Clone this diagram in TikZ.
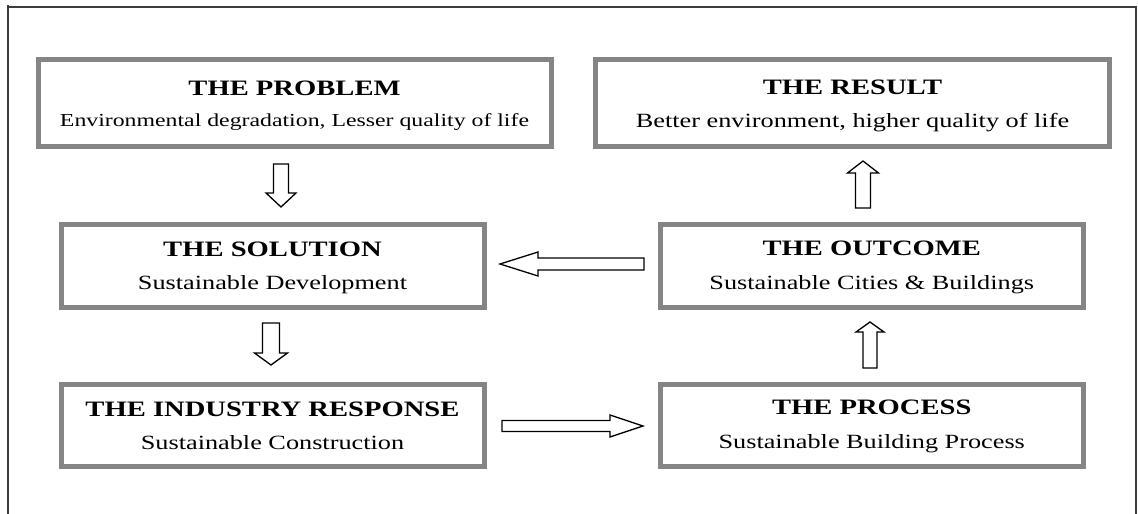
\documentclass[tikz,border=0pt]{standalone}
\usepackage{fontspec}
\setmainfont{Liberation Serif}
\usetikzlibrary{calc}

\definecolor{boxgray}{HTML}{858585}
\definecolor{framegray}{HTML}{3C3C3C}

% wide-set type used throughout the chart
\newcommand\wide[1]{\scalebox{1.3}[1]{#1}}
\newcommand\titlefont{\fontsize{22}{26}\selectfont\bfseries}
\newcommand\subfont{\fontsize{20.2}{24}\selectfont}
\newcommand\subsmallfont{\fontsize{18.3}{22}\selectfont}

% hollow block arrow from #1 to #2: shaft half-width #3, head half-width #4, head length #5
\newcommand\blockarrow[5]{%
  \coordinate (#1-#2-b) at ($(#2)!#5!(#1)$);
  \draw[blockline]
    ($(#1)!#3!90:(#2)$) -- ($(#1-#2-b)!#3!90:(#2)$) -- ($(#1-#2-b)!#4!90:(#2)$)
    -- (#2)
    -- ($(#1-#2-b)!#4!-90:(#2)$) -- ($(#1-#2-b)!#3!-90:(#2)$) -- ($(#1)!#3!-90:(#2)$)
    -- cycle;}

\tikzset{
  stagebox/.style={draw=boxgray, line width=5pt, fill=white, rectangle,
    inner sep=0pt, outer sep=0pt},
  titletext/.style={font=\titlefont, anchor=base, inner sep=0pt},
  subtext/.style={font=\subfont, anchor=base, inner sep=0pt},
  blockline/.style={draw=black, line width=1.3pt, fill=white, line join=miter},
  frameline/.style={draw=framegray, line width=1.2pt},
}

\begin{document}
\begin{tikzpicture}[x=1pt, y=-1pt]
\useasboundingbox (0,0) rectangle (1138,514);

% open page frame
\draw[frameline] (8,514) -- (8,5);
\draw[frameline] (8,7) -- (1136,7) -- (1136,514);

% stage boxes
\node[stagebox, minimum width=513pt, minimum height=86.5pt] (problem)  at (294.5,102.75) {};
\node[stagebox, minimum width=514pt, minimum height=86.5pt] (result)   at (852.5,102.75) {};
\node[stagebox, minimum width=423pt, minimum height=82.5pt] (solution) at (272.5,265.75) {};
\node[stagebox, minimum width=422.5pt, minimum height=82.5pt] (outcome) at (871.75,265.75) {};
\node[stagebox, minimum width=423pt, minimum height=82.5pt] (industry) at (272.5,425.25) {};
\node[stagebox, minimum width=422.5pt, minimum height=82.5pt] (process) at (871.75,425.25) {};

% box texts
\node[titletext] (problem-t) at ($(problem.north)+(0,35.5)$) {\wide{THE PROBLEM}};
\node[subtext, font=\subsmallfont] (problem-s) at ($(problem.north)+(0,66.5)$) {\wide{Environmental degradation, Lesser quality of life}};
\node[titletext] (result-t) at ($(result.north)+(0,34.5)$) {\wide{THE RESULT}};
\node[subtext] (result-s) at ($(result.north)+(0,67.5)$) {\wide{Better environment, higher quality of life}};
\node[titletext] (solution-t) at ($(solution.north)+(0,32)$) {\wide{THE SOLUTION}};
\node[subtext] (solution-s) at ($(solution.north)+(0,64.5)$) {\wide{Sustainable Development}};
\node[titletext] (outcome-t) at ($(outcome.north)+(0,31)$) {\wide{THE OUTCOME}};
\node[subtext] (outcome-s) at ($(outcome.north)+(0,64.5)$) {\wide{Sustainable Cities \& Buildings}};
\node[titletext] (industry-t) at ($(industry.north)+(0,32)$) {\wide{THE INDUSTRY RESPONSE}};
\node[subtext] (industry-s) at ($(industry.north)+(0,65.5)$) {\wide{Sustainable Construction}};
\node[titletext] (process-t) at ($(process.north)+(0,30)$) {\wide{THE PROCESS}};
\node[subtext] (process-s) at ($(process.north)+(0,64)$) {\wide{Sustainable Building Process}};

% arrow end points
\coordinate (a1s) at (281,164);  \coordinate (a1e) at (281,207);
\coordinate (a2s) at (271,323);  \coordinate (a2e) at (271,365);
\coordinate (a3s) at (863,208);  \coordinate (a3e) at (863,161);
\coordinate (a4s) at (870,368);  \coordinate (a4e) at (870,322);
\coordinate (a5s) at (644,264);  \coordinate (a5e) at (500,264);
\coordinate (a6s) at (502,426);  \coordinate (a6e) at (643,426);

% flow arrows
\blockarrow{a1s}{a1e}{7.5pt}{15pt}{14pt}
\blockarrow{a2s}{a2e}{8.5pt}{16.5pt}{12pt}
\blockarrow{a3s}{a3e}{7.5pt}{15.5pt}{12pt}
\blockarrow{a4s}{a4e}{7pt}{14pt}{10pt}
\blockarrow{a5s}{a5e}{6pt}{12pt}{38pt}
\blockarrow{a6s}{a6e}{5.5pt}{11pt}{33pt}
\end{tikzpicture}
\end{document}
